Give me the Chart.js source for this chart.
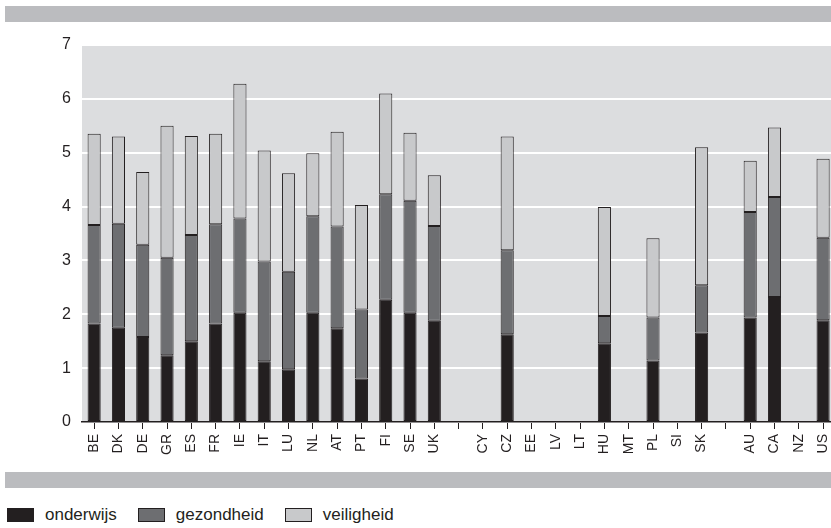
<!DOCTYPE html>
<html>
<head>
<meta charset="utf-8">
<script src="https://cdn.jsdelivr.net/npm/chart.js@4/dist/chart.umd.min.js"></script>
<style>
  html, body { margin: 0; padding: 0; background: #fff; }
  body { width: 831px; height: 528px; overflow: hidden; position: relative;
         font-family: "Liberation Sans Narrow", "Liberation Sans", Arial, sans-serif; color: #231f20; }
  .band { position: absolute; left: 5px; right: 0; height: 16px; background: #bbbcbf; }
  #chartBox { position: absolute; left: 0; top: 0; width: 845px; height: 470px; }
  #legend { position: absolute; left: 7px; top: 505px; display: flex; align-items: center; font-size: 17px; }
  #legend span.item { display: flex; align-items: center; margin-right: 21px; }
  #legend i { display: inline-block; width: 25px; height: 12px; margin-right: 11px; border: 1px solid #231f20; }
</style>
</head>
<body>
<div class="band" style="top:6px"></div>
<div id="chartBox"><canvas id="chartSpend" width="845" height="470"></canvas></div>
<div class="band" style="top:472px"></div>
<div id="legend"></div>

<script>
'use strict';

// Country codes; empty strings are the gaps between the country groups
const categories = ['BE','DK','DE','GR','ES','FR','IE','IT','LU','NL','AT','PT','FI','SE','UK','',
                    'CY','CZ','EE','LV','LT','HU','MT','PL','SI','SK','',
                    'AU','CA','NZ','US'];

const onderwijs   = [1.83,1.75,1.58,1.24,1.50,1.83,2.03,1.13,0.98,2.03,1.74,0.81,2.27,2.03,1.88,null,
                     null,1.63,null,null,null,1.46,null,1.14,null,1.66,null,
                     1.94,2.32,null,1.89];
const gezondheid  = [1.83,1.93,1.71,1.81,1.97,1.84,1.75,1.85,1.81,1.79,1.89,1.28,1.96,2.08,1.76,null,
                     null,1.56,null,null,null,0.51,null,0.80,null,0.88,null,
                     1.96,1.86,null,1.53];
const veiligheid  = [1.69,1.62,1.35,2.45,1.84,1.68,2.50,2.06,1.83,1.17,1.76,1.94,1.87,1.26,0.94,null,
                     null,2.11,null,null,null,2.02,null,1.47,null,2.56,null,
                     0.95,1.29,null,1.47];

const seriesNames  = ['onderwijs', 'gezondheid', 'veiligheid'];
const seriesColors = ['#231f20', '#6d6e71', '#c8c9cb'];
const yTicks = [0, 1, 2, 3, 4, 5, 6, 7];

const INK = '#231f20';
const FONT = '"Liberation Sans Narrow", "Liberation Sans", Arial, sans-serif';

// fill the plotting area before anything else is drawn
const plotBackground = {
    id: 'plotBackground',
    beforeDraw(chart) {
        const { ctx, chartArea: a } = chart;
        ctx.save();
        ctx.fillStyle = '#dcdddf';
        ctx.fillRect(a.left, a.top, a.right - a.left, a.bottom - a.top);
        ctx.restore();
    }
};

const datasets = [onderwijs, gezondheid, veiligheid].map((data, i) => ({
    label: seriesNames[i],
    data: data,
    backgroundColor: seriesColors[i],
    borderColor: INK,
    borderWidth: 1,
    borderSkipped: false,
    categoryPercentage: 1,
    barPercentage: 0.54
}));

new Chart(document.getElementById('chartSpend'), {
    type: 'bar',
    data: { labels: categories, datasets },
    plugins: [plotBackground],
    options: {
        responsive: false,
        animation: false,
        layout: { padding: { top: 45, right: 7, left: 0, bottom: 0 } },
        plugins: { legend: { display: false }, tooltip: { enabled: false } },
        scales: {
            x: {
                stacked: true,
                afterFit: (s) => { s.height = 48; },
                grid: { offset: false, drawOnChartArea: false, color: INK, tickLength: 7, lineWidth: 1 },
                border: { display: true, color: INK, width: 1.5 },
                ticks: {
                    autoSkip: false, maxRotation: 90, minRotation: 90, padding: 5,
                    color: INK, font: { family: FONT, size: 14 }
                }
            },
            y: {
                stacked: true,
                min: 0, max: 7,
                afterFit: (s) => { s.width = 82; },
                afterBuildTicks: (s) => { s.ticks = yTicks.map(v => ({ value: v })); },
                grid: { color: '#ffffff', lineWidth: 2, drawTicks: false },
                border: { display: false },
                ticks: { padding: 11, color: INK, font: { family: FONT, size: 16 } }
            }
        }
    }
});

// legend below the bottom band
const legendEl = document.getElementById('legend');
seriesNames.forEach((name, i) => {
    const item = document.createElement('span');
    item.className = 'item';
    item.innerHTML = `<i style="background:${seriesColors[i]}"></i>${name}`;
    legendEl.appendChild(item);
});
</script>
</body>
</html>
